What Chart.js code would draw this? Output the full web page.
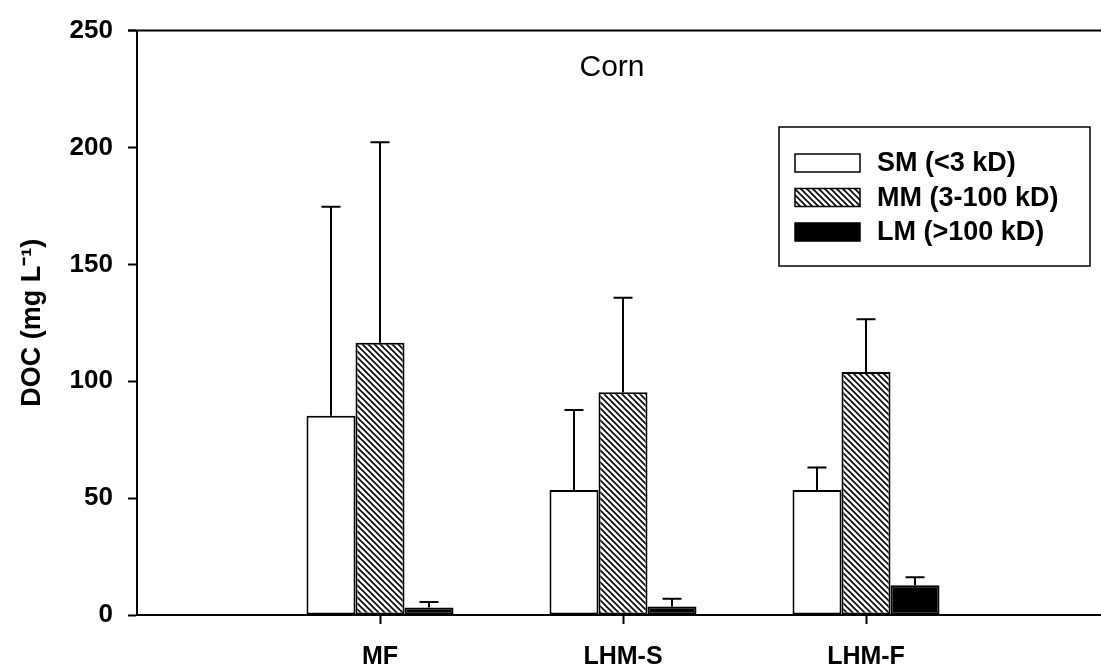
<!DOCTYPE html>
<html>
<head>
<meta charset="utf-8">
<script src="https://cdn.jsdelivr.net/npm/chart.js@4.4.1/dist/chart.umd.min.js"></script>
<style>
  html, body { margin: 0; padding: 0; background: #fff; overflow: hidden; }
  #wrap { width: 1109px; height: 670px; position: relative; }
</style>
</head>
<body>
<div id="wrap"><canvas id="chart"></canvas></div>
<script>
// categories (empty slots at both ends give the spacing of the original axis)
const categories = ['', 'MF', 'LHM-S', 'LHM-F', ''];
const seriesNames = ['SM (<3 kD)', 'MM (3-100 kD)', 'LM (>100 kD)'];

// mean DOC values, mg/L
const smValues = [null, 85.2, 53.5, 53.5, null];
const mmValues = [null, 116.5, 95.3, 104.0, null];
const lmValues = [null, 3.2, 3.6, 12.7, null];

// upper error (SD) for each bar
const smErrors = [null, 89.4, 34.2, 9.6, null];
const mmErrors = [null, 85.7, 40.4, 22.5, null];
const lmErrors = [null, 2.4, 3.3, 3.4, null];

const yTicks = [0, 50, 100, 150, 200, 250];
const chartTitle = 'Corn';
const yTitle = 'DOC (mg L\u207B\u00B9)';

const FONT = '"Liberation Sans", Arial, Helvetica, sans-serif';

function makeHatch() {
  const s = 6;
  const c = document.createElement('canvas');
  c.width = s; c.height = s;
  const g = c.getContext('2d');
  g.fillStyle = '#fff';
  g.fillRect(0, 0, s, s);
  g.strokeStyle = '#000';
  g.lineWidth = 1.6;
  for (let k = -1; k <= 1; k++) {
    g.beginPath();
    g.moveTo(k * s - 1, -1);
    g.lineTo(k * s + s + 1, s + 1);
    g.stroke();
  }
  return document.getElementById('chart').getContext('2d').createPattern(c, 'repeat');
}
const hatch = makeHatch();

const errorBars = {
  id: 'errorBars',
  afterDatasetsDraw(chart) {
    const ctx = chart.ctx;
    const y = chart.scales.y;
    ctx.save();
    ctx.strokeStyle = '#000';
    ctx.lineWidth = 2;
    chart.data.datasets.forEach((ds, i) => {
      const meta = chart.getDatasetMeta(i);
      meta.data.forEach((bar, j) => {
        const v = ds.data[j];
        const e = ds.errors[j];
        if (v == null || e == null) return;
        const top = y.getPixelForValue(v + e);
        ctx.beginPath();
        ctx.moveTo(bar.x, bar.y);
        ctx.lineTo(bar.x, top);
        ctx.moveTo(bar.x - 9.5, top);
        ctx.lineTo(bar.x + 9.5, top);
        ctx.stroke();
      });
    });
    ctx.restore();
  }
};

const decorations = {
  id: 'decorations',
  afterDraw(chart) {
    const ctx = chart.ctx;
    const a = chart.chartArea;
    ctx.save();
    // top frame line
    ctx.strokeStyle = '#000';
    ctx.lineWidth = 2;
    ctx.beginPath();
    ctx.moveTo(a.left - 9, a.top);
    ctx.lineTo(chart.width, a.top);
    ctx.stroke();

    // panel title
    ctx.fillStyle = '#000';
    ctx.font = '30px ' + FONT;
    ctx.textAlign = 'center';
    ctx.textBaseline = 'middle';
    ctx.fillText(chartTitle, 612, 68);

    // legend
    const bx = 779, by = 127, bw = 311, bh = 139;
    ctx.lineWidth = 1.5;
    ctx.fillStyle = '#fff';
    ctx.fillRect(bx, by, bw, bh);
    ctx.strokeRect(bx, by, bw, bh);
    ctx.font = 'bold 27px ' + FONT;
    ctx.textAlign = 'left';
    chart.data.datasets.forEach((ds, i) => {
      const cy = 163 + i * 34.5;
      ctx.fillStyle = ds.backgroundColor;
      ctx.fillRect(795, cy - 9, 65, 18);
      ctx.lineWidth = 1.5;
      ctx.strokeStyle = '#000';
      ctx.strokeRect(795, cy - 9, 65, 18);
      ctx.fillStyle = '#000';
      ctx.fillText(ds.label, 877, cy + 1);
    });
    ctx.restore();
  }
};

new Chart(document.getElementById('chart'), {
  type: 'bar',
  data: {
    labels: categories,
    datasets: [
      { label: seriesNames[0], data: smValues, errors: smErrors, backgroundColor: '#fff', borderColor: '#000', borderWidth: 2 },
      { label: seriesNames[1], data: mmValues, errors: mmErrors, backgroundColor: hatch, borderColor: '#000', borderWidth: 2 },
      { label: seriesNames[2], data: lmValues, errors: lmErrors, backgroundColor: '#000', borderColor: '#000', borderWidth: 2 }
    ]
  },
  options: {
    responsive: true,
    maintainAspectRatio: false,
    animation: false,
    layout: { padding: { top: 24, right: 0, left: 0, bottom: 0 } },
    datasets: { bar: { categoryPercentage: 0.605, barPercentage: 1.0, borderSkipped: false } },
    plugins: { legend: { display: false }, tooltip: { enabled: false }, title: { display: false } },
    scales: {
      x: {
        offset: false,
        grid: {
          offset: false,
          drawOnChartArea: false,
          drawTicks: true,
          tickLength: 9,
          tickWidth: 2,
          tickColor: (c) => (c.tick && c.tick.label ? '#000' : 'rgba(0,0,0,0)')
        },
        border: { display: true, color: '#000', width: 2 },
        ticks: {
          color: '#000',
          padding: 18,
          autoSkip: false,
          maxRotation: 0,
          font: { family: FONT, size: 25, weight: 'bold' }
        },
        afterFit: (s) => { s.height = 55; s.paddingLeft = 0; s.paddingRight = 0; }
      },
      y: {
        min: 0,
        max: 250,
        afterBuildTicks: (s) => { s.ticks = yTicks.map(v => ({ value: v })); },
        grid: {
          drawOnChartArea: false,
          drawTicks: true,
          tickLength: 9,
          tickWidth: 2,
          tickColor: '#000'
        },
        border: { display: true, color: '#000', width: 2 },
        ticks: {
          color: '#000',
          padding: 15,
          font: { family: FONT, size: 26, weight: 'bold' }
        },
        title: {
          display: true,
          text: yTitle,
          color: '#000',
          padding: { top: 16, bottom: 0 },
          font: { family: FONT, size: 27, weight: 'bold' }
        },
        afterFit: (s) => { s.width = 137; }
      }
    }
  },
  plugins: [errorBars, decorations]
});
</script>
</body>
</html>
